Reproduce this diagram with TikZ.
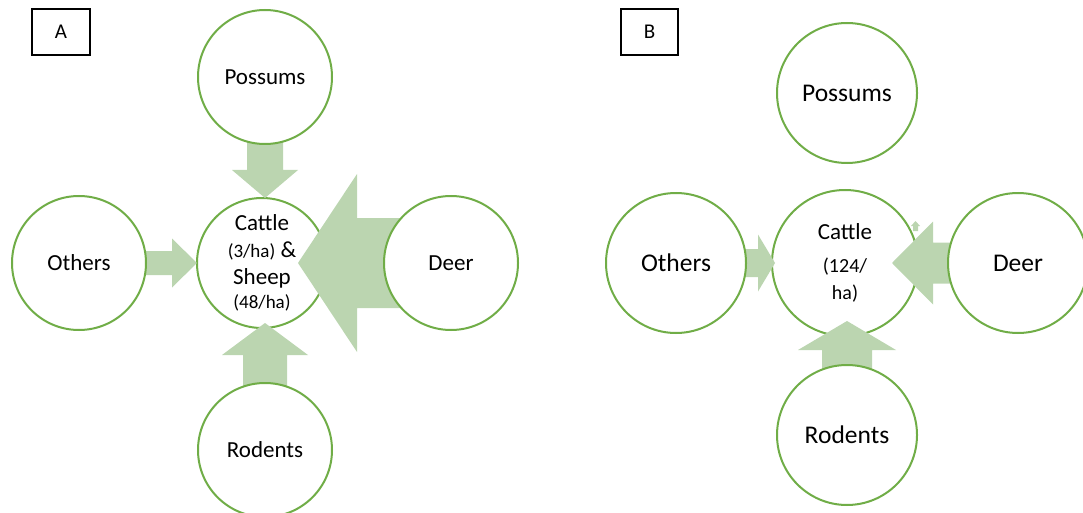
\documentclass[tikz,border=0pt]{standalone}
\usepackage{fontspec}
\setmainfont{Carlito}
\usetikzlibrary{calc}
\definecolor{ringgreen}{RGB}{112,173,71}
\definecolor{arrowgreen}{RGB}{187,213,176}
\tikzset{
  ring/.style={circle, draw=ringgreen, line width=2pt, fill=white, inner sep=0pt, align=center, font=\fontsize{23}{27}\selectfont},
  ringB/.style={ring, font=\fontsize{25.5}{30}\selectfont},
  panelbox/.style={draw=black, line width=2pt, minimum width=58pt, minimum height=46pt, inner sep=0pt, font=\fontsize{21}{25}\selectfont},
  arrowfill/.style={fill=arrowgreen}
}
% #1 tail, #2 tip, #3 shaft half width, #4 head half width, #5 head length (pt)
\newcommand\blockarrow[5]{%
  \coordinate (bab) at ($(#2)!#5pt!(#1)$);
  \fill[arrowfill] ($(#1)!#3pt!90:(#2)$) -- ($(bab)!#3pt!90:(#2)$) -- ($(bab)!#4pt!90:(#2)$) -- (#2)
    -- ($(bab)!#4pt!-90:(#2)$) -- ($(bab)!#3pt!-90:(#2)$) -- ($(#1)!#3pt!-90:(#2)$) -- cycle;
}
\begin{document}
\begin{tikzpicture}[x=1pt,y=-1pt]
\useasboundingbox (0,0) rectangle (1083,513);

% ---------- Panel A ----------
\node[panelbox] (boxA) at (61,32) {A};
\node[ring, minimum size=130pt] (cA) at (262,263)
  {Cattle\\{\fontsize{19}{27}\selectfont (3/ha)} \&\\Sheep\\[-3pt]{\fontsize{19}{23}\selectfont (48/ha)}};

\coordinate (pAc) at (265,77);
\coordinate (oAc) at (79,263);
\coordinate (dAc) at (451,263);
\coordinate (rAc) at (265,450);
\coordinate (tipPA) at (265,198);
\coordinate (tipOA) at (197,263);
\coordinate (tipDA) at (298,263);
\coordinate (tipRA) at (265,323);

\blockarrow{pAc}{tipPA}{18}{33}{28}
\blockarrow{oAc}{tipOA}{12}{24.5}{25}
\blockarrow{dAc}{tipDA}{45}{89}{59}
\blockarrow{rAc}{tipRA}{22}{43}{32}

\node[ring, minimum size=134pt] (pA) at (pAc) {Possums};
\node[ring, minimum size=134pt] (oA) at (oAc) {Others};
\node[ring, minimum size=134pt] (dA) at (dAc) {Deer};
\node[ring, minimum size=134pt] (rA) at (rAc) {Rodents};

% ---------- Panel B ----------
\node[panelbox, minimum width=57pt] (boxB) at (649.5,32) {B};
\node[ring, minimum size=146pt] (cB) at (845,263)
  {Cattle\\[6pt]{\fontsize{20}{27}\selectfont (124/}\\{\fontsize{20}{27}\selectfont ha)}};

\coordinate (pBc) at (847,93);
\coordinate (oBc) at (676,263);
\coordinate (dBc) at (1018,263);
\coordinate (rBc) at (847,435);
\coordinate (tipOB) at (775,263);
\coordinate (tipDB) at (892,263);
\coordinate (tipRB) at (847,321);
\coordinate (blobTail) at (915.5,231);
\coordinate (blobTip) at (915.5,221);

\blockarrow{oBc}{tipOB}{14}{28.5}{17}
\blockarrow{dBc}{tipDB}{20.5}{41.5}{41}
\blockarrow{rBc}{tipRB}{25}{49}{29}
\blockarrow{blobTail}{blobTip}{2.5}{4.5}{5}

\node[ringB, minimum size=140pt] (pB) at (pBc) {Possums};
\node[ringB, minimum size=140pt] (oB) at (oBc) {Others};
\node[ringB, minimum size=140pt] (dB) at (dBc) {Deer};
\node[ringB, minimum size=140pt] (rB) at (rBc) {Rodents};
\end{tikzpicture}
\end{document}
